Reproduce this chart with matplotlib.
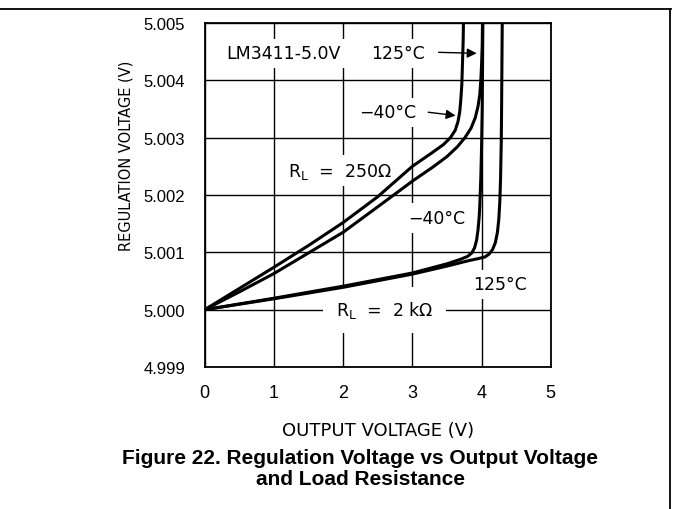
import matplotlib.pyplot as plt
from matplotlib.lines import Line2D

# Данные кривых (выходное напряжение, В -> напряжение стабилизации, В)
v_250_m40 = [0, 0.5, 1.0, 1.5, 2.0, 2.5, 3.0, 3.3, 3.45, 3.55, 3.62, 3.66, 3.685, 3.70,
             3.715, 3.725, 3.735, 3.74]
reg_250_m40 = [5.0, 5.00037, 5.00074, 5.00112, 5.00152, 5.00197, 5.0025, 5.00275, 5.00288,
               5.003, 5.00313, 5.00328, 5.00345, 5.00365, 5.00392, 5.0043, 5.0047, 5.0051]

v_250_125 = [0, 0.5, 1.0, 2.0, 2.72, 3.01, 3.3, 3.5, 3.65, 3.76, 3.85, 3.91, 3.95, 3.975,
             3.99, 4.0, 4.01, 4.015]
reg_250_125 = [5.0, 5.00031, 5.00063, 5.00135, 5.00199, 5.00225, 5.00249, 5.00267, 5.00284,
               5.003, 5.00317, 5.00335, 5.00355, 5.00375, 5.004, 5.00425, 5.0046, 5.0051]

v_2k_m40 = [0, 1.0, 2.0, 3.0, 3.5, 3.7, 3.8, 3.86, 3.9, 3.93, 3.95, 3.965, 3.975, 3.99, 4.0,
            4.01, 4.015, 4.02]
reg_2k_m40 = [5.0, 5.0002, 5.00041, 5.00064, 5.0008, 5.00088, 5.00093, 5.00099, 5.00108,
              5.00122, 5.0014, 5.0016, 5.00181, 5.0023, 5.0028, 5.0035, 5.0043, 5.0051]

v_2k_125 = [0, 1.0, 2.0, 3.0, 3.5, 3.83, 3.95, 4.05, 4.11, 4.16, 4.2, 4.23, 4.25, 4.265,
            4.275, 4.285, 4.29, 4.30]
reg_2k_125 = [5.0, 5.00019, 5.00039, 5.00062, 5.00076, 5.00086, 5.00089, 5.00092, 5.00097,
              5.00105, 5.00117, 5.00135, 5.00158, 5.0019, 5.00228, 5.0029, 5.0035, 5.0051]

x_ticks = [0, 1, 2, 3, 4, 5]
y_ticks = [4.999, 5.000, 5.001, 5.002, 5.003, 5.004, 5.005]
y_tick_labels = ['4.999', '5.000', '5.001', '5.002', '5.003', '5.004', '5.005']

fig = plt.figure(figsize=(6.73, 5.10), dpi=100)
ax = fig.add_axes([0.3042, 0.2784, 0.5141, 0.6745])

# Кривые
for xv, yv in [(v_250_m40, reg_250_m40), (v_250_125, reg_250_125),
               (v_2k_m40, reg_2k_m40), (v_2k_125, reg_2k_125)]:
    ax.plot(xv, yv, color='black', lw=2.2, zorder=5, solid_joinstyle='round')

ax.set_xlim(0, 5)
ax.set_ylim(4.999, 5.005)
ax.set_xticks(x_ticks)
ax.set_yticks(y_ticks)
ax.set_yticklabels(y_tick_labels)
ax.tick_params(axis='both', length=0)
ax.tick_params(axis='x', pad=12, labelsize=13)
ax.tick_params(axis='y', pad=14, labelsize=12)
for lab in ax.get_xticklabels() + ax.get_yticklabels():
    lab.set_family('Liberation Sans')
ax.grid(True, color='black', lw=1.0)
ax.set_axisbelow(True)
for s in ax.spines.values():
    s.set_linewidth(1.3)

# Подписи на графике
box = dict(facecolor='white', edgecolor='none', pad=4)
txt = dict(fontsize=12.5, ha='center', va='center', zorder=3, bbox=box)
ax.text(1.14, 5.00447, 'LM3411-5.0V', **txt)
ax.text(2.80, 5.00447, '125°C', **txt)
ax.text(2.645, 5.00344, '\u221240°C', **txt)
ax.text(1.95, 5.00242, r'R$_\mathregular{L}$  =  250$\Omega$', **txt)
ax.text(3.35, 5.0016, '\u221240°C', **txt)
ax.text(4.26, 5.00044, '125°C', **txt)
ax.text(2.60, 5.0, r'R$_\mathregular{L}$  =  2 k$\Omega$', fontsize=12.5, ha='center',
        va='center', zorder=3, bbox=dict(facecolor='white', edgecolor='none', pad=9))

arrow = dict(arrowstyle='-|>', color='black', lw=1.0, mutation_scale=14)
ax.annotate('', xy=(3.97, 5.00447), xytext=(3.34, 5.00449), arrowprops=arrow, zorder=6)
ax.annotate('', xy=(3.665, 5.00338), xytext=(3.19, 5.00345), arrowprops=arrow, zorder=6)

# Подписи осей и заголовок рисунка
fig.text(126 / 673, 1 - 156 / 510, 'REGULATION VOLTAGE (V)', rotation=90,
         ha='center', va='center', fontsize=10.5)
fig.text(378 / 673, 1 - 431 / 510, 'OUTPUT VOLTAGE (V)', ha='center', va='center', fontsize=13)
fig.text(360 / 673, 1 - 469 / 510,
         'Figure 22. Regulation Voltage vs Output Voltage\nand Load Resistance',
         ha='center', va='center', fontsize=15, fontweight='bold',
         family='Liberation Sans', linespacing=1.15)

# Рамка страницы
fig.add_artist(Line2D([0, 671 / 673], [1 - 9.5 / 510, 1 - 9.5 / 510], color='black', lw=1.3))
fig.add_artist(Line2D([670 / 673, 670 / 673], [0, 1 - 9.5 / 510], color='black', lw=1.3))

plt.savefig('out.png', dpi=100)
